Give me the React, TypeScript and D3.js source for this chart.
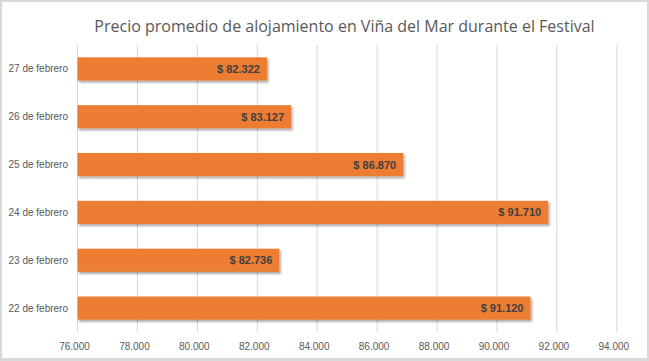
import React from "react";
import * as d3 from "d3";

const categories = ["22 de febrero", "23 de febrero", "24 de febrero", "25 de febrero", "26 de febrero", "27 de febrero"];
const prices = [91120, 82736, 91710, 86870, 83127, 82322];
const xTicks = [76000, 78000, 80000, 82000, 84000, 86000, 88000, 90000, 92000, 94000];
const title = "Precio promedio de alojamiento en Viña del Mar durante el Festival";

const W = 649;
const H = 361;
const FONT = "'Liberation Sans', Arial, sans-serif";
const TITLE_FONT = "'Open Sans', 'Liberation Sans', sans-serif";

const locale = d3.formatLocale({ decimal: ",", thousands: ".", grouping: [3], currency: ["$ ", ""] });
const fmtThousands = locale.format(",");

export default function App() {
  const x = d3.scaleLinear().domain([76000, 94000]).range([77.5, 616.8]);
  const y = d3
    .scaleBand<string>()
    .domain([...categories].reverse())
    .range([45, 332])
    .padding(0);
  const barH = y.bandwidth() * 0.485;

  return (
    <svg width={W} height={H} style={{ position: "absolute", left: 0, top: 0 }}>
      <defs>
        <filter id="shadow" x="-5%" y="-30%" width="110%" height="170%">
          <feDropShadow dx="1.5" dy="2" stdDeviation="1.2" floodColor="#000" floodOpacity="0.35" />
        </filter>
      </defs>
      <rect x={0} y={0} width={W} height={H} fill="#d9d9d9" />
      <rect x={2} y={2} width={645} height={356} fill="#ffffff" />
      <text x={344.5} y={31.5} textAnchor="middle" fontFamily={TITLE_FONT} fontSize={16} fontWeight={500} fill="#595959">
        {title}
      </text>
      {xTicks.map((t) => (
        <g key={t}>
          <line x1={x(t)} x2={x(t)} y1={45} y2={332} stroke="#d9d9d9" strokeWidth={1} />
          <text x={x(t) - 3} y={350} textAnchor="middle" fontFamily={FONT} fontSize={10} fill="#595959">
            {fmtThousands(t)}
          </text>
        </g>
      ))}
      {categories.map((c, i) => {
        const cy = (y(c) as number) + y.bandwidth() / 2;
        return (
          <g key={c}>
            <text x={68} y={cy + 3.5} textAnchor="end" fontFamily={FONT} fontSize={10} fill="#595959">
              {c}
            </text>
            <rect
              x={x(76000)}
              y={cy - barH / 2}
              width={x(prices[i]) - x(76000)}
              height={barH}
              fill="#ED7D31"
              filter="url(#shadow)"
            />
            <text
              x={x(prices[i]) - 7}
              y={cy + 4}
              textAnchor="end"
              fontFamily={FONT}
              fontSize={11}
              fontWeight="bold"
              fill="#404040"
            >
              {"$ " + fmtThousands(prices[i])}
            </text>
          </g>
        );
      })}
    </svg>
  );
}
